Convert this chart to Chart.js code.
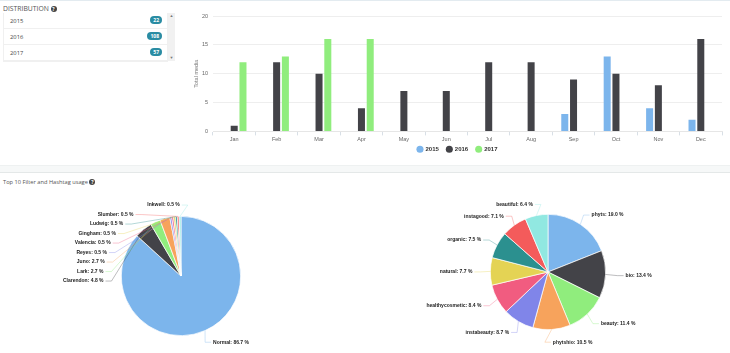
<!DOCTYPE html>
<html>
<head>
<meta charset="utf-8">
<script src="https://cdn.jsdelivr.net/npm/chart.js@4"></script>
<style>
html, body { margin: 0; padding: 0; background: #fff; overflow: hidden; }
body { width: 730px; height: 353px; position: relative; font-family: "Open Sans", "Liberation Sans", sans-serif; color: #555; }
.top-line { position: absolute; left: 0; top: 0; width: 730px; height: 1px; background: #e3ebf0; }
.band { position: absolute; left: 0; top: 165px; width: 730px; height: 8px; background: #f6f8f8; border-top: 1px solid #eef1f1; border-bottom: 1px solid #e4e8e8; box-sizing: border-box; }
.heading { position: absolute; left: 3px; top: 3px; font-size: 6.8px; line-height: 11px; color: #555; }
.heading2 { position: absolute; left: 3px; top: 177px; font-size: 5.7px; line-height: 11px; color: #555; }
.help { display: inline-block; width: 6px; height: 6px; line-height: 6px; border-radius: 50%; background: #444; color: #fff; font-size: 5px; text-align: center; font-weight: bold; vertical-align: 0; }
.list { position: absolute; left: 3px; top: 13px; width: 165px; border: 1px solid #f0f0f0; border-top: none; box-sizing: border-box; }
.row { height: 16px; border-bottom: 1px solid #f0f0f0; box-sizing: border-box; position: relative; font-size: 5.8px; line-height: 16px; padding-left: 6px; color: #444; }
.badge { position: absolute; right: 5px; top: 3px; height: 8px; line-height: 8px; padding: 0 3px; border-radius: 4px; background: #2a8ca3; color: #fff; font-size: 5px; font-weight: bold; }
.scroll { position: absolute; left: 168px; top: 13px; width: 7px; height: 48px; background: #f1f1f1; }
.scroll span { position: absolute; left: 0; width: 7px; text-align: center; font-size: 4px; line-height: 6px; color: #777; }
canvas { position: absolute; }
</style>
</head>
<body>
<div class="top-line"></div>
<div class="heading">DISTRIBUTION <span class="help">?</span></div>
<div class="list">
  <div class="row">2015<span class="badge" id="b0"></span></div>
  <div class="row">2016<span class="badge" id="b1"></span></div>
  <div class="row">2017<span class="badge" id="b2"></span></div>
</div>
<div class="scroll"><span style="top:0">&#9650;</span><span style="bottom:0">&#9660;</span></div>
<div class="band"></div>
<div class="heading2">Top 10 Filter and Hashtag usage <span class="help">?</span></div>
<canvas id="bars" width="540" height="162" style="left:190px;top:3px;width:540px;height:162px"></canvas>
<canvas id="pieLeft" width="365" height="175" style="left:0;top:178px;width:365px;height:175px"></canvas>
<canvas id="pieRight" width="365" height="175" style="left:365px;top:178px;width:365px;height:175px"></canvas>
<script>
const MONTHS = ['Jan', 'Feb', 'Mar', 'Apr', 'May', 'Jun', 'Jul', 'Aug', 'Sep', 'Oct', 'Nov', 'Dec'];
const SERIES_NAMES = ['2015', '2016', '2017'];
const SERIES_2015 = [0, 0, 0, 0, 0, 0, 0, 0, 3, 13, 4, 2];
const SERIES_2016 = [1, 12, 10, 4, 7, 7, 12, 12, 9, 10, 8, 16];
const SERIES_2017 = [12, 13, 16, 16, 0, 0, 0, 0, 0, 0, 0, 0];
const BADGES = ['22', '108', '57'];

const FILTER_NAMES = ['Normal', 'Clarendon', 'Lark', 'Juno', 'Reyes', 'Valencia', 'Gingham', 'Ludwig', 'Slumber', 'Inkwell'];
const FILTER_VALUES = [86.7, 4.8, 2.7, 2.7, 0.5, 0.5, 0.5, 0.5, 0.5, 0.5];
const HASHTAG_NAMES = ['phyts', 'bio', 'beauty', 'phytshio', 'instabeauty', 'healthycosmetic', 'natural', 'organic', 'instagood', 'beautiful'];
const HASHTAG_VALUES = [19.0, 13.4, 11.4, 10.5, 8.7, 8.4, 7.7, 7.5, 7.1, 6.4];

const COLORS = ['#7cb5ec', '#434348', '#90ed7d', '#f7a35c', '#8085e9', '#f15c80', '#e4d354', '#2b908f', '#f45b5b', '#91e8e1'];

BADGES.forEach((b, i) => { document.getElementById(`b${i}`).textContent = b; });

Chart.defaults.animation = false;
Chart.defaults.responsive = false;
Chart.defaults.font.family = '"Liberation Sans", Arial, sans-serif';

// the legend box is taller than the gap it has, so pull it up over the axis
const legendUp = {
    id: 'legendUp',
    afterLayout(chart) {
        chart.legend.top = chart.scales.x.bottom - 5.7;
    },
};

new Chart(document.getElementById('bars'), {
    type: 'bar',
    data: {
        labels: MONTHS,
        datasets: [SERIES_2015, SERIES_2016, SERIES_2017].map((values, i) => ({
            label: SERIES_NAMES[i],
            data: values,
            backgroundColor: COLORS[i],
            categoryPercentage: 0.62,
            barPercentage: 0.8,
        })),
    },
    options: {
        layout: { padding: { left: 3, right: 8, top: 13, bottom: -3 } },
        scales: {
            x: {
                grid: { drawOnChartArea: false, offset: true, tickLength: 4, color: '#d8dfe6' },
                border: { color: '#e6e6e6' },
                ticks: { color: '#666', font: { size: 5.5 }, padding: 1, maxRotation: 0 },
            },
            y: {
                min: 0,
                max: 20,
                afterFit: scale => { scale.width = 20; },
                grid: { color: '#eeeeee', drawTicks: false },
                border: { display: false },
                ticks: { stepSize: 5, color: '#666', font: { size: 5.5 }, padding: 5 },
                title: { display: true, text: 'Total media', color: '#777', font: { size: 5.5 }, padding: 0 },
            },
        },
        plugins: {
            tooltip: { enabled: false },
            legend: {
                position: 'bottom',
                labels: {
                    usePointStyle: true,
                    pointStyle: 'circle',
                    boxWidth: 5,
                    boxHeight: 5,
                    padding: 8,
                    color: '#333',
                    font: { size: 6, weight: 'bold' },
                },
            },
        },
    },
    plugins: [legendUp],
});

// labels outside the slices with a thin connector, pushed down when they collide
const pieLabels = {
    id: 'pieLabels',
    afterDatasetsDraw(chart) {
        const { ctx } = chart;
        const arcs = chart.getDatasetMeta(0).data;
        const names = chart.data.labels;
        const values = chart.data.datasets[0].data;
        const items = arcs.map((arc, i) => {
            const a = (arc.startAngle + arc.endAngle) / 2;
            const r = arc.outerRadius;
            const left = Math.cos(a) < 0;
            return {
                i, a, r, left,
                cx: arc.x,
                cy: arc.y,
                x: arc.x + (r + (left ? 18 : 20)) * Math.cos(a),
                y: arc.y + (r + 12) * Math.sin(a) + 0.7,
            };
        });

        const left = items.filter(it => it.left).sort((p, q) => p.y - q.y);
        let prev = -Infinity;
        for (const it of left) {
            if (it.y < prev + 9.5) {
                it.y = prev + 9.5;
                const dy = it.y - it.cy;
                const rx = it.r + 18;
                it.x = it.cx - Math.sqrt(Math.max(rx * rx - dy * dy, 0));
            }
            prev = it.y;
        }

        ctx.save();
        ctx.font = 'bold 5px "Liberation Sans", Arial, sans-serif';
        ctx.textBaseline = 'middle';
        for (const it of items) {
            const dir = it.left ? -1 : 1;
            ctx.strokeStyle = COLORS[it.i];
            ctx.globalAlpha = 0.7;
            ctx.lineWidth = 0.5;
            ctx.beginPath();
            ctx.moveTo(it.cx + it.r * Math.cos(it.a), it.cy + it.r * Math.sin(it.a));
            ctx.lineTo(it.x - dir * 8, it.y);
            ctx.lineTo(it.x - dir * 2, it.y);
            ctx.stroke();
            ctx.globalAlpha = 1;
            ctx.fillStyle = '#222';
            ctx.textAlign = it.left ? 'right' : 'left';
            ctx.fillText(`${names[it.i]}: ${values[it.i].toFixed(1)} %`, it.x, it.y);
        }
        ctx.restore();
    },
};

function drawPie(id, names, values, padding) {
    new Chart(document.getElementById(id), {
        type: 'pie',
        data: {
            labels: names,
            datasets: [{ data: values, backgroundColor: COLORS, borderColor: '#fff', borderWidth: 0.7 }],
        },
        options: {
            layout: { padding },
            plugins: { legend: { display: false }, tooltip: { enabled: false } },
        },
        plugins: [pieLabels],
    });
}

// pie boxes picked so the circles land at the reference centres
drawPie('pieLeft', FILTER_NAMES, FILTER_VALUES, { left: 121, right: 124, top: 38, bottom: 17 });
drawPie('pieRight', HASHTAG_NAMES, HASHTAG_VALUES, { left: 125, right: 124, top: 36, bottom: 23 });
</script>
</body>
</html>
